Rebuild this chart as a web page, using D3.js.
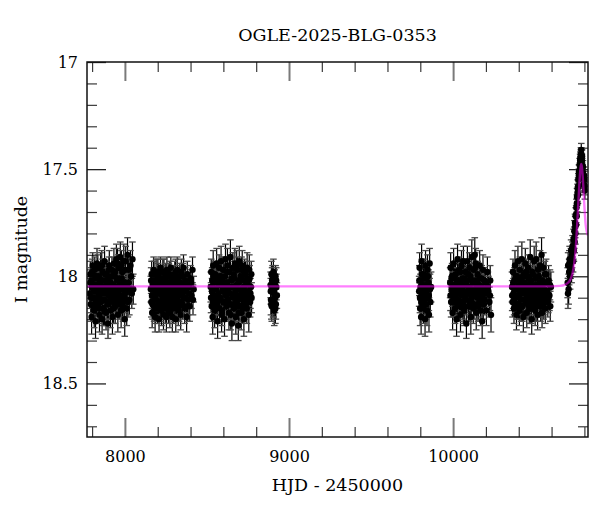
<!DOCTYPE html>
<html><head><meta charset="utf-8">
<script src="https://cdn.jsdelivr.net/npm/d3@7/dist/d3.min.js"></script>
<style>
html,body{margin:0;padding:0;background:#fff;}
svg text{font-family:"DejaVu Serif",serif;fill:#000;}
</style></head>
<body><svg id="c" width="600" height="512"></svg>
<script>
const title = "OGLE-2025-BLG-0353";
const xLabel = "HJD - 2450000";
const yLabel = "I magnitude";
const xDomain = [7769, 10822];
const yDomain = [17, 18.75];
const xMajor = [8000, 9000, 10000];
const xMinor = [7800, 8200, 8400, 8600, 8800, 9200, 9400, 9600, 9800, 10200, 10400, 10600, 10800];
const yMajor = [17, 17.5, 18, 18.5];
const yMinor = [17.1, 17.2, 17.3, 17.4, 17.6, 17.7, 17.8, 17.9, 18.1, 18.2, 18.3, 18.4, 18.6, 18.7];

// observations: [HJD-2450000, I mag, error]
const season1 = [[7786,18.08,.07],[7789,17.99,.06],[7792,18.13,.08],[7795,18.02,.06],[7797,18.19,.08],[7800,18.05,.07],[7804,17.95,.06],[7806,18.10,.07],[7809,18.04,.06],[7813,18.16,.08],
[7816,17.97,.06],[7818,18.07,.07],[7821,18.21,.08],[7825,18.01,.06],[7828,18.11,.07],[7830,17.94,.07],[7833,18.06,.06],[7837,18.14,.08],[7840,18.00,.06],[7842,18.09,.07],
[7845,18.18,.08],[7849,18.03,.06],[7852,17.96,.07],[7854,18.12,.07],[7857,18.05,.06],[7861,18.20,.07],[7864,17.98,.06],[7866,18.08,.07],[7869,18.15,.08],[7873,18.02,.06],
[7876,17.93,.07],[7878,18.11,.07],[7881,18.06,.06],[7885,18.17,.08],[7888,17.99,.06],[7890,18.04,.06],[7893,18.13,.07],[7897,18.22,.07],[7900,18.01,.06],[7902,18.09,.07],
[7905,17.95,.07],[7909,18.07,.06],[7912,18.16,.08],[7914,18.03,.06],[7917,18.10,.07],[7921,17.97,.06],[7924,18.19,.08],[7926,18.05,.06],[7929,18.12,.07],[7933,17.94,.07],
[7936,18.08,.06],[7938,18.00,.06],[7941,18.14,.08],[7945,18.06,.07],[7948,17.92,.07],[7950,18.11,.07],[7953,18.02,.06],[7957,18.18,.08],[7960,17.96,.06],[7962,18.07,.07],
[7965,18.13,.07],[7969,18.04,.06],[7972,17.91,.07],[7974,18.09,.07],[7977,18.16,.08],[7981,18.01,.06],[7984,17.98,.06],[7986,18.12,.07],[7989,18.05,.06],[7993,17.93,.08],
[7996,18.10,.07],[7999,18.20,.08],[8003,17.97,.06],[8007,18.06,.07],[8011,18.15,.08],[8016,17.90,.08],[8021,18.03,.06],[8027,18.11,.07],[8034,17.95,.07],[8042,18.08,.07],
[7788,18.03,.06],[7794,18.10,.07],[7801,17.98,.06],[7807,18.14,.07],[7811,18.06,.06],[7819,18.00,.06],[7823,18.12,.07],[7827,18.04,.06],[7835,17.96,.06],[7839,18.09,.07],
[7843,18.15,.07],[7847,18.01,.06],[7855,18.07,.06],[7859,17.95,.07],[7863,18.11,.07],[7871,18.05,.06],[7875,18.16,.07],[7880,17.99,.06],[7887,18.08,.07],[7892,18.02,.06],
[7899,18.13,.07],[7903,17.97,.06],[7907,18.06,.06],[7916,18.11,.07],[7919,18.00,.06],[7928,18.04,.06],[7931,18.15,.07],[7940,17.98,.06],[7943,18.09,.07],[7952,18.05,.06],
[7955,17.94,.07],[7964,18.10,.07],[7967,18.01,.06],[7976,18.06,.06],[7979,17.95,.07],[7988,18.14,.07],[7991,18.03,.06],[8001,18.08,.07],[8005,17.93,.07],[8013,18.04,.07],
[8018,18.12,.07],[8024,17.97,.07],[8030,18.06,.07],[8038,18.00,.07],[8046,17.92,.08],[8051,18.06,.07]];

const season2 = [[8158,18.06,.06],[8161,18.12,.07],[8163,17.99,.06],[8166,18.17,.07],[8169,18.04,.06],[8172,18.09,.06],[8175,17.97,.06],[8178,18.14,.07],[8181,18.02,.06],[8184,18.19,.07],
[8187,18.07,.06],[8190,17.98,.06],[8193,18.11,.07],[8196,18.05,.06],[8199,18.15,.07],[8202,18.00,.06],[8205,18.08,.06],[8208,18.20,.06],[8211,18.03,.06],[8214,18.13,.07],
[8217,17.96,.05],[8220,18.07,.06],[8223,18.16,.07],[8226,18.01,.06],[8229,18.10,.06],[8232,18.04,.06],[8235,18.18,.07],[8238,17.98,.06],[8241,18.09,.06],[8244,18.13,.07],
[8247,18.02,.06],[8250,18.06,.06],[8253,18.19,.07],[8256,17.97,.06],[8259,18.11,.07],[8262,18.05,.06],[8265,18.15,.07],[8268,18.00,.06],[8271,18.08,.06],[8274,18.17,.07],
[8277,18.03,.06],[8280,17.96,.05],[8283,18.12,.07],[8286,18.06,.06],[8289,18.19,.07],[8292,18.01,.06],[8295,18.10,.06],[8298,18.04,.06],[8301,18.14,.07],[8304,17.99,.06],
[8307,18.07,.06],[8310,18.20,.06],[8313,18.02,.06],[8316,18.11,.07],[8319,17.97,.06],[8322,18.08,.06],[8325,18.16,.07],[8328,18.03,.06],[8331,18.12,.07],[8334,18.00,.06],
[8337,18.06,.06],[8340,18.18,.07],[8344,17.98,.06],[8347,18.09,.06],[8350,18.13,.07],[8354,18.04,.06],[8357,17.96,.06],[8361,18.10,.07],[8364,18.15,.07],[8368,18.02,.06],
[8372,18.07,.06],[8376,18.19,.07],[8380,17.99,.06],[8385,18.11,.07],[8390,18.05,.06],[8395,18.14,.07],[8400,18.01,.06],[8406,18.09,.06],[8412,17.97,.06],[8419,18.06,.06],
[8160,18.02,.06],[8165,18.09,.06],[8168,18.13,.07],[8174,18.05,.06],[8177,17.99,.06],[8183,18.10,.06],[8186,18.15,.07],[8192,18.03,.06],[8195,18.08,.06],[8201,17.98,.06],
[8204,18.12,.07],[8210,18.06,.06],[8213,18.01,.06],[8219,18.14,.07],[8222,18.04,.06],[8228,18.09,.06],[8231,17.98,.06],[8237,18.11,.07],[8240,18.05,.06],[8246,18.15,.07],
[8249,18.00,.06],[8255,18.07,.06],[8258,18.12,.07],[8264,18.03,.06],[8267,18.09,.06],[8273,17.99,.06],[8276,18.13,.07],[8282,18.06,.06],[8285,18.01,.06],[8291,18.10,.06],
[8294,18.15,.07],[8300,18.04,.06],[8303,18.08,.06],[8309,17.98,.06],[8312,18.12,.07],[8318,18.05,.06],[8321,18.01,.06],[8327,18.09,.06],[8330,18.14,.07],[8336,18.03,.06],
[8339,18.07,.06],[8346,18.12,.07],[8352,18.00,.06],[8359,18.06,.06],[8366,18.10,.07],[8374,18.04,.06],[8382,18.14,.07],[8392,18.08,.06],[8403,18.03,.06],[8415,18.11,.07]];

const season3 = [[8523,18.05,.07],[8526,17.98,.06],[8529,18.14,.07],[8532,18.02,.06],[8535,18.19,.08],[8538,17.95,.07],[8541,18.09,.07],[8544,18.03,.06],[8547,18.16,.08],[8550,17.99,.06],
[8553,18.11,.07],[8556,18.06,.06],[8559,17.94,.07],[8562,18.13,.07],[8565,18.21,.08],[8568,18.01,.06],[8571,18.08,.07],[8574,17.96,.06],[8577,18.15,.07],[8580,18.04,.06],
[8583,18.10,.07],[8586,17.93,.07],[8589,18.18,.08],[8592,18.02,.06],[8595,18.07,.07],[8598,17.97,.06],[8601,18.12,.07],[8604,18.05,.06],[8607,18.20,.08],[8610,18.00,.06],
[8613,17.92,.07],[8616,18.09,.07],[8619,18.14,.07],[8622,18.03,.06],[8625,17.95,.08],[8628,18.11,.07],[8631,18.06,.06],[8634,18.17,.08],[8637,17.98,.06],[8640,18.08,.07],
[8643,17.91,.08],[8646,18.13,.07],[8649,18.02,.06],[8652,18.22,.08],[8655,18.05,.06],[8658,17.96,.07],[8661,18.10,.07],[8664,18.15,.07],[8667,18.01,.06],[8670,17.94,.07],
[8673,18.07,.06],[8676,18.19,.08],[8679,18.04,.06],[8682,18.12,.07],[8685,17.97,.06],[8688,18.09,.07],[8691,18.23,.07],[8694,18.03,.06],[8697,17.93,.07],[8700,18.14,.07],
[8703,18.06,.06],[8706,18.00,.06],[8709,18.17,.08],[8712,18.08,.07],[8715,17.95,.07],[8718,18.11,.07],[8721,18.02,.06],[8725,18.20,.08],[8729,17.98,.06],[8733,18.07,.07],
[8737,18.13,.07],[8741,18.04,.06],[8745,17.96,.07],[8750,18.10,.07],[8755,18.18,.08],[8760,18.01,.06],[8765,18.08,.07],[8770,17.99,.06],
[8525,18.10,.07],[8531,18.07,.06],[8537,18.12,.07],[8543,18.00,.06],[8549,18.06,.06],[8555,18.14,.07],[8561,18.02,.06],[8567,18.09,.07],[8573,18.04,.06],[8579,18.11,.07],
[8585,18.00,.06],[8591,18.16,.07],[8597,18.06,.06],[8603,17.97,.06],[8609,18.12,.07],[8615,18.03,.06],[8621,18.08,.07],[8627,17.98,.07],[8633,18.13,.07],[8639,18.05,.06],
[8645,18.18,.07],[8651,18.01,.06],[8657,18.09,.07],[8663,17.99,.06],[8669,18.14,.07],[8675,18.05,.06],[8681,17.95,.07],[8687,18.11,.07],[8693,18.17,.07],[8699,18.02,.06],
[8705,18.10,.07],[8711,17.97,.06],[8717,18.15,.07],[8723,18.05,.06],[8727,18.12,.07],[8731,18.02,.06],[8735,17.99,.06],[8739,18.09,.07],[8743,18.15,.07],[8748,18.03,.06],
[8753,18.07,.07],[8758,17.97,.07],[8763,18.12,.07],[8768,18.05,.06],[8772,18.10,.07]];

const season4 = [[8888,18.04,.06],[8890,18.11,.07],[8893,17.99,.06],[8895,18.14,.07],[8898,18.06,.06],[8900,18.01,.06],[8903,18.12,.07],[8905,17.98,.06],
[8908,18.08,.06],[8910,18.16,.07],[8913,18.03,.06],[8915,18.10,.07],[8918,18.00,.05],[8920,18.13,.07],[8923,18.05,.06],[8926,18.09,.06],
[8889,18.07,.06],[8892,18.13,.07],[8897,18.02,.06],[8902,18.07,.06],[8907,18.12,.07],[8912,18.05,.06],[8917,18.15,.07],[8922,18.02,.06]];

const season5 = [[9793,18.07,.07],[9796,17.96,.07],[9799,18.15,.08],[9802,18.02,.06],[9805,18.19,.08],[9808,17.93,.08],[9811,18.09,.07],[9814,18.04,.06],
[9817,18.13,.07],[9820,17.99,.07],[9823,18.11,.07],[9826,18.06,.06],[9829,18.20,.08],[9832,17.95,.07],[9835,18.08,.07],[9838,18.01,.06],
[9841,18.16,.07],[9844,17.97,.07],[9847,18.10,.07],[9850,18.03,.06],[9853,18.18,.08],[9857,17.94,.07],[9861,18.12,.07],[9866,18.05,.07],
[9794,18.02,.07],[9798,18.10,.07],[9801,18.05,.06],[9806,18.12,.07],[9810,17.99,.07],[9815,18.07,.06],[9819,18.15,.07],[9824,18.01,.06],
[9828,18.08,.07],[9834,18.13,.07],[9840,18.04,.06],[9846,18.00,.07],[9852,18.09,.07],[9859,18.06,.07]];

const season6 = [[9982,18.03,.07],[9985,17.96,.07],[9988,18.12,.07],[9991,18.06,.06],[9994,18.00,.06],[9997,18.17,.08],[10000,18.04,.06],[10003,17.94,.07],[10006,18.10,.07],[10009,18.07,.06],
[10012,18.15,.07],[10015,17.99,.06],[10018,18.05,.06],[10021,18.20,.08],[10024,18.02,.06],[10027,17.92,.07],[10030,18.11,.07],[10033,18.08,.06],[10036,17.97,.06],[10039,18.14,.07],
[10042,18.03,.06],[10045,18.18,.08],[10048,18.06,.06],[10051,17.95,.07],[10054,18.09,.07],[10057,18.01,.06],[10060,18.13,.07],[10063,17.93,.07],[10066,18.07,.06],[10069,18.16,.07],
[10072,18.04,.06],[10075,17.98,.06],[10078,18.11,.07],[10081,18.22,.07],[10084,18.02,.06],[10087,17.93,.07],[10090,18.08,.07],[10093,18.14,.07],[10096,18.05,.06],[10099,17.96,.07],
[10102,18.12,.07],[10105,18.00,.06],[10108,18.19,.08],[10111,18.06,.06],[10114,17.91,.08],[10117,18.09,.07],[10120,18.03,.06],[10123,18.15,.07],[10126,17.97,.06],[10129,18.07,.06],
[10132,17.90,.08],[10135,18.02,.06],[10138,17.94,.07],[10141,18.17,.08],[10144,18.05,.06],[10147,18.10,.07],[10150,17.99,.06],[10154,18.13,.07],[10158,18.04,.06],[10162,17.95,.07],
[10166,18.12,.07],[10170,18.08,.07],[10174,18.01,.06],[10177,18.21,.08],[10182,17.97,.07],[10187,18.06,.06],[10192,18.11,.07],[10197,18.03,.06],[10203,18.16,.07],[10209,17.98,.07],
[10215,18.07,.07],[10221,18.12,.07],[10226,18.02,.07],[10231,18.18,.08],
[9984,18.09,.07],[9990,18.01,.06],[9996,18.08,.06],[10002,18.12,.07],[10008,18.00,.06],[10014,18.09,.07],[10020,18.04,.06],[10026,18.13,.07],[10032,18.02,.06],[10038,18.07,.06],
[10044,17.98,.06],[10050,18.12,.07],[10056,18.05,.06],[10062,18.15,.07],[10068,18.01,.06],[10074,18.10,.07],[10080,18.03,.06],[10086,18.08,.06],[10092,17.99,.06],[10098,18.14,.07],
[10104,18.06,.06],[10110,18.11,.07],[10116,18.02,.06],[10122,18.07,.06],[10128,18.13,.07],[10134,17.96,.07],[10140,18.09,.07],[10146,18.03,.06],[10152,18.14,.07],[10156,18.07,.06],
[10160,18.01,.06],[10164,18.10,.07],[10168,18.16,.07],[10172,18.05,.06],[10180,18.09,.07],[10185,18.13,.07],[10190,18.02,.06],[10200,18.08,.07],[10212,18.05,.07],[10224,18.09,.07]];

const season7 = [[10359,18.05,.07],[10362,18.12,.07],[10365,17.98,.06],[10368,18.08,.07],[10371,18.15,.07],[10374,18.02,.06],[10377,17.95,.07],[10380,18.10,.07],[10383,18.06,.06],[10386,18.18,.07],
[10389,18.00,.06],[10392,18.09,.07],[10395,17.93,.07],[10398,18.13,.07],[10401,18.04,.06],[10404,18.16,.07],[10407,17.97,.06],[10410,18.07,.06],[10413,18.11,.07],[10416,18.01,.06],
[10419,17.92,.08],[10422,18.14,.07],[10425,18.05,.06],[10428,18.19,.07],[10431,17.99,.06],[10434,18.08,.07],[10437,18.03,.06],[10440,17.94,.07],[10443,18.12,.07],[10446,18.06,.06],
[10449,18.17,.07],[10452,18.00,.06],[10455,18.10,.07],[10458,17.96,.06],[10461,18.04,.06],[10464,18.15,.07],[10467,18.07,.06],[10470,17.91,.08],[10473,18.11,.07],[10476,18.02,.06],
[10479,18.20,.07],[10482,17.98,.06],[10485,18.09,.07],[10488,18.05,.06],[10491,18.13,.07],[10494,17.93,.07],[10497,18.07,.06],[10500,18.16,.07],[10503,18.01,.06],[10506,17.92,.08],
[10509,18.10,.07],[10512,18.04,.06],[10515,18.18,.07],[10518,17.97,.06],[10521,18.08,.07],[10524,18.12,.07],[10527,18.03,.06],[10530,17.95,.07],[10533,18.14,.07],[10536,18.06,.06],
[10539,17.90,.08],[10542,18.17,.07],[10546,18.09,.07],[10550,17.96,.07],[10554,18.11,.07],[10558,18.03,.06],[10562,18.15,.07],[10567,17.99,.07],[10572,18.07,.06],[10577,18.12,.07],
[10582,18.02,.07],[10587,18.09,.07],[10592,18.14,.07],[10596,18.05,.07],
[10360,18.09,.07],[10366,18.03,.06],[10372,18.11,.07],[10378,18.06,.06],[10384,18.00,.06],[10390,18.13,.07],[10396,18.05,.06],[10402,18.09,.07],[10408,18.02,.06],[10414,18.14,.07],
[10420,18.06,.06],[10426,18.00,.06],[10432,18.11,.07],[10438,18.07,.06],[10444,17.98,.06],[10450,18.09,.07],[10456,18.13,.07],[10462,18.01,.06],[10468,18.05,.06],[10474,18.15,.07],
[10480,18.08,.06],[10486,17.99,.06],[10492,18.06,.06],[10498,18.11,.07],[10504,18.04,.06],[10510,18.14,.07],[10516,18.07,.06],[10522,18.00,.06],[10528,18.10,.07],[10534,18.04,.06],
[10540,18.12,.07],[10544,18.02,.06],[10548,18.07,.06],[10552,18.13,.07],[10556,18.06,.06],[10560,17.99,.06],[10565,18.09,.07],[10570,18.03,.06],[10580,18.10,.07],[10590,18.04,.07]];

const season8 = [[10698,18.03,.07],[10701,17.95,.06],[10704,18.06,.07],[10707,17.98,.06],[10710,17.92,.06],[10713,18.00,.06],[10716,17.95,.06],[10719,17.88,.05],
[10722,17.97,.06],[10725,17.91,.05],[10728,17.86,.05],[10731,17.93,.05],[10734,17.83,.05],[10736,17.88,.05],[10739,17.79,.05],[10741,17.84,.05],
[10743,17.75,.04],[10745,17.80,.05],[10747,17.72,.04],[10749,17.76,.04],[10751,17.68,.04],[10753,17.72,.04],[10755,17.63,.04],[10757,17.66,.04],
[10759,17.59,.04],[10761,17.62,.04],[10763,17.55,.03],[10765,17.58,.04],[10767,17.51,.03],[10769,17.54,.03],[10771,17.48,.03],[10773,17.50,.03],
[10775,17.45,.03],[10777,17.47,.03],[10779,17.43,.03],[10781,17.41,.03],[10783,17.44,.03],[10785,17.46,.03],[10787,17.48,.03],[10789,17.51,.03],
[10791,17.49,.03],[10794,17.54,.03],[10797,17.57,.04],[10800,17.55,.04],[10803,17.60,.04],
[10700,18.08,.07],[10708,17.94,.06],[10718,17.93,.06],[10727,17.89,.05],[10733,17.87,.05],[10738,17.82,.05],[10744,17.77,.05],[10750,17.71,.04],
[10754,17.66,.04],[10758,17.61,.04],[10762,17.58,.04],[10766,17.53,.03],[10770,17.51,.03],[10774,17.46,.03],[10778,17.44,.03],[10782,17.43,.03],
[10786,17.44,.03],[10792,17.52,.03],[10798,17.53,.04],[10802,17.58,.04]];

// model light curve: [HJD-2450000, I mag]
const model = [[7769,18.047],[10600,18.047],[10650,18.045],[10680,18.04],[10700,18.03],[10715,18.015],[10728,17.985],[10738,17.94],
[10748,17.86],[10756,17.76],[10763,17.66],[10769,17.575],[10774,17.515],[10778,17.485],[10781,17.476],[10784,17.485],[10788,17.515],
[10793,17.575],[10798,17.645],[10803,17.71],[10808,17.76],[10814,17.79],[10822,17.81]];

const seasons = [season1, season2, season3, season4, season5, season6, season7, season8];
const obs = seasons.flat();

const L = 87, R = 588, T = 62, B = 437;
const svg = d3.select("#c");
const x = d3.scaleLinear().domain(xDomain).range([L, R]);
const y = d3.scaleLinear().domain(yDomain).range([T, B]);

svg.append("defs").append("clipPath").attr("id","clip")
  .append("rect").attr("x",L).attr("y",T).attr("width",R-L).attr("height",B-T);

const styleAxis = (col, w) => g => {
  g.select(".domain").remove();
  g.selectAll(".tick line").attr("stroke",col).attr("stroke-width",w);
  g.selectAll(".tick text").attr("font-size","16px").attr("fill","#000");
};
const none = () => "";
const majCol = "#7a7a7a", minCol = "#3a3a3a";

// bottom
svg.append("g").attr("transform",`translate(0,${B})`)
  .call(d3.axisBottom(x).tickValues(xMajor).tickSize(-19).tickPadding(14).tickFormat(d3.format("d"))).call(styleAxis(majCol,2));
svg.append("g").attr("transform",`translate(0,${B})`)
  .call(d3.axisBottom(x).tickValues(xMinor).tickSize(-10).tickFormat(none)).call(styleAxis(minCol,1.2));
// top
svg.append("g").attr("transform",`translate(0,${T})`)
  .call(d3.axisTop(x).tickValues(xMajor).tickSize(-19).tickFormat(none)).call(styleAxis(majCol,2));
svg.append("g").attr("transform",`translate(0,${T})`)
  .call(d3.axisTop(x).tickValues(xMinor).tickSize(-10).tickFormat(none)).call(styleAxis(minCol,1.2));
// left
svg.append("g").attr("transform",`translate(${L},0)`)
  .call(d3.axisLeft(y).tickValues(yMajor).tickSize(-19).tickPadding(9).tickFormat(d => String(d))).call(styleAxis("#222",1.3));
svg.append("g").attr("transform",`translate(${L},0)`)
  .call(d3.axisLeft(y).tickValues(yMinor).tickSize(-10).tickFormat(none)).call(styleAxis(minCol,1.2));
// right
svg.append("g").attr("transform",`translate(${R},0)`)
  .call(d3.axisRight(y).tickValues(yMajor).tickSize(-19).tickFormat(none)).call(styleAxis("#222",1.3));
svg.append("g").attr("transform",`translate(${R},0)`)
  .call(d3.axisRight(y).tickValues(yMinor).tickSize(-10).tickFormat(none)).call(styleAxis(minCol,1.2));

const plot = svg.append("g").attr("clip-path","url(#clip)");

// error bars
const eb = plot.append("g");
eb.selectAll("line.bar").data(obs).join("line").attr("class","bar")
  .attr("x1",d=>x(d[0])).attr("x2",d=>x(d[0]))
  .attr("y1",d=>y(d[1]-d[2])).attr("y2",d=>y(d[1]+d[2]))
  .attr("stroke","#000").attr("stroke-width",1.2);
eb.selectAll("line.capt").data(obs).join("line").attr("class","capt")
  .attr("x1",d=>x(d[0])-3.3).attr("x2",d=>x(d[0])+3.3)
  .attr("y1",d=>y(d[1]-d[2])).attr("y2",d=>y(d[1]-d[2]))
  .attr("stroke","#4a4a4a").attr("stroke-width",1.3);
eb.selectAll("line.capb").data(obs).join("line").attr("class","capb")
  .attr("x1",d=>x(d[0])-3.3).attr("x2",d=>x(d[0])+3.3)
  .attr("y1",d=>y(d[1]+d[2])).attr("y2",d=>y(d[1]+d[2]))
  .attr("stroke","#4a4a4a").attr("stroke-width",1.3);

// points
plot.append("g").selectAll("circle").data(obs).join("circle")
  .attr("cx",d=>x(d[0])).attr("cy",d=>y(d[1])).attr("r",3.2).attr("fill","#000");

// model
plot.append("path").datum(model)
  .attr("d", d3.line().x(d=>x(d[0])).y(d=>y(d[1])).curve(d3.curveMonotoneX))
  .attr("fill","none").attr("stroke","#ff00ff").attr("stroke-opacity",0.5).attr("stroke-width",2.4);

// frame
svg.append("rect").attr("x",L).attr("y",T).attr("width",R-L).attr("height",B-T)
  .attr("fill","none").attr("stroke","#111").attr("stroke-width",1.5);

// texts
svg.append("text").attr("x",(L+R)/2).attr("y",41).attr("text-anchor","middle")
  .attr("font-size","17.5px").text(title);
svg.append("text").attr("x",(L+R)/2).attr("y",491).attr("text-anchor","middle")
  .attr("font-size","17.5px").text(xLabel);
svg.append("text").attr("transform",`translate(27,${(T+B)/2}) rotate(-90)`).attr("text-anchor","middle")
  .attr("font-size","17.5px").text(yLabel);
</script></body></html>
